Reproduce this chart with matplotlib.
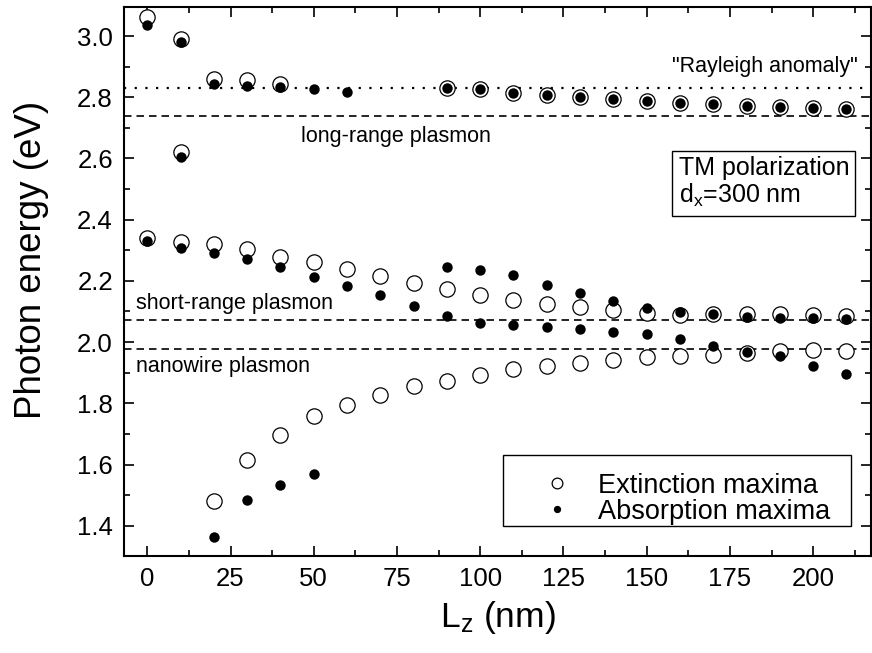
import numpy as np
import matplotlib
matplotlib.use("Agg")
import matplotlib.pyplot as plt
from matplotlib.ticker import MultipleLocator, FormatStrFormatter
from matplotlib.patches import Rectangle

plt.rcParams['font.family'] = ['Liberation Sans', 'DejaVu Sans']
plt.rcParams['mathtext.fontset'] = 'custom'
plt.rcParams['mathtext.rm'] = 'Liberation Sans'
plt.rcParams['mathtext.it'] = 'Liberation Sans'

# ---- data: resonance positions vs. wire separation Lz (nm) ----
# Extinction maxima (open circles)
ext_upper_x = [0, 10, 20, 30, 40, 90, 100, 110, 120, 130, 140, 150, 160, 170, 180, 190, 200, 210]
ext_upper_y = [3.061, 2.990, 2.859, 2.857, 2.843, 2.829, 2.826, 2.815, 2.808, 2.800, 2.793,
               2.787, 2.781, 2.777, 2.772, 2.768, 2.765, 2.762]
ext_extra_x = [10]
ext_extra_y = [2.622]
ext_mid_x = [0, 10, 20, 30, 40, 50, 60, 70, 80, 90, 100, 110, 120, 130, 140, 150, 160, 170, 180, 190, 200, 210]
ext_mid_y = [2.341, 2.327, 2.319, 2.303, 2.279, 2.261, 2.238, 2.216, 2.192, 2.174, 2.154,
             2.139, 2.125, 2.115, 2.106, 2.096, 2.090, 2.091, 2.093, 2.092, 2.090, 2.086]
ext_low_x = [20, 30, 40, 50, 60, 70, 80, 90, 100, 110, 120, 130, 140, 150, 160, 170, 180, 190, 200, 210]
ext_low_y = [1.482, 1.615, 1.697, 1.758, 1.796, 1.828, 1.856, 1.874, 1.894, 1.911, 1.921,
             1.931, 1.941, 1.950, 1.954, 1.958, 1.964, 1.972, 1.975, 1.972]

# Absorption maxima (filled circles)
abs_upper_x = [0, 10, 20, 30, 40, 50, 60, 90, 100, 110, 120, 130, 140, 150, 160, 170, 180, 190, 200, 210]
abs_upper_y = [3.037, 2.980, 2.842, 2.838, 2.833, 2.826, 2.818, 2.829, 2.826, 2.815, 2.808,
               2.800, 2.793, 2.787, 2.781, 2.777, 2.772, 2.768, 2.765, 2.762]
abs_extra_x = [10]
abs_extra_y = [2.604]
abs_mid_x = [0, 10, 20, 30, 40, 50, 60, 70, 80, 90, 100, 110, 120, 130, 140, 150, 160, 170, 180, 190, 200, 210]
abs_mid_y = [2.330, 2.308, 2.292, 2.270, 2.244, 2.214, 2.184, 2.154, 2.117, 2.086, 2.064,
             2.055, 2.049, 2.043, 2.034, 2.025, 2.009, 1.987, 1.967, 1.955, 1.923, 1.897]
abs_high_x = [90, 100, 110, 120, 130, 140, 150, 160, 170, 180, 190, 200, 210]
abs_high_y = [2.245, 2.236, 2.219, 2.188, 2.159, 2.134, 2.111, 2.097, 2.091, 2.082, 2.078, 2.078, 2.074]
abs_low_x = [20, 30, 40, 50]
abs_low_y = [1.362, 1.485, 1.534, 1.570]

# Reference energies (eV)
rayleigh = 2.829
long_range = 2.739
short_range = 2.073
nanowire = 1.977

fig = plt.figure(figsize=(8.72, 6.53), dpi=100)
ax = fig.add_axes([0.1422, 0.1490, 0.8567, 0.8398])

# horizontal reference lines
ax.axhline(rayleigh, color='black', lw=1.6, ls=(0, (1.0, 3.8)))
for e in (long_range, short_range, nanowire):
    ax.axhline(e, color='black', lw=1.2, ls=(0, (4.5, 3.0)))

ext_kw = dict(ls='none', marker='o', ms=11, mfc='white', mec='black', mew=0.9)
abs_kw = dict(ls='none', marker='o', ms=7.5, mfc='black', mec='black', mew=0)

first = True
for xs, ys in [(ext_upper_x, ext_upper_y), (ext_extra_x, ext_extra_y),
               (ext_mid_x, ext_mid_y), (ext_low_x, ext_low_y)]:
    ax.plot(xs, ys, label='Extinction maxima' if first else None, zorder=3, **ext_kw)
    first = False
first = True
for xs, ys in [(abs_upper_x, abs_upper_y), (abs_extra_x, abs_extra_y),
               (abs_mid_x, abs_mid_y), (abs_high_x, abs_high_y), (abs_low_x, abs_low_y)]:
    ax.plot(xs, ys, label='Absorption maxima' if first else None, zorder=4, **abs_kw)
    first = False

ax.set_xlim(-7.0, 217.4)
ax.set_ylim(1.302, 3.094)

ax.xaxis.set_major_locator(MultipleLocator(25))
ax.xaxis.set_minor_locator(MultipleLocator(12.5))
ax.yaxis.set_major_locator(MultipleLocator(0.2))
ax.yaxis.set_minor_locator(MultipleLocator(0.1))
ax.yaxis.set_major_formatter(FormatStrFormatter('%.1f'))

ax.tick_params(which='both', direction='in', top=True, right=True, width=1.2)
ax.tick_params(which='major', length=7, labelsize=18.5, pad=8)
ax.tick_params(which='minor', length=4)
for s in ax.spines.values():
    s.set_linewidth(1.5)

ax.set_xlabel('L$_\\mathregular{z}$ (nm)', fontsize=25.5, labelpad=6)
ax.set_ylabel('Photon energy (eV)', fontsize=26.5, labelpad=20)
ax.yaxis.label.set_y(0.54)

ax.text(157.6, 2.900, '"Rayleigh anomaly"', fontsize=15.5, va='center', ha='left')
ax.text(46.2, 2.671, 'long-range plasmon', fontsize=15.5, va='center', ha='left')
ax.text(-3.5, 2.127, 'short-range plasmon', fontsize=15.5, va='center', ha='left')
ax.text(-3.5, 1.920, 'nanowire plasmon', fontsize=15.5, va='center', ha='left')

ax.text(159.6, 2.521, 'TM polarization\nd$_\\mathregular{x}$=300 nm', fontsize=18, va='center', ha='left',
        linespacing=1.1,
        bbox=dict(boxstyle='square,pad=0.25', fc='white', ec='black', lw=1.0))

# legend entries, with a plain rectangular frame around them
leg = ax.legend(loc='upper left', bbox_to_anchor=(0.5435, 0.1517), fontsize=19.5,
                frameon=False, markerscale=0.7, handletextpad=0.52, borderpad=0.0,
                borderaxespad=0.0, labelspacing=0.0, handlelength=2.0)
ax.add_patch(Rectangle((0.5074, 0.0542), 0.9732 - 0.5074, 0.1836 - 0.0542,
                       transform=ax.transAxes, fill=False, ec='black', lw=1.0, zorder=5))

fig.savefig('out.png', dpi=100)
